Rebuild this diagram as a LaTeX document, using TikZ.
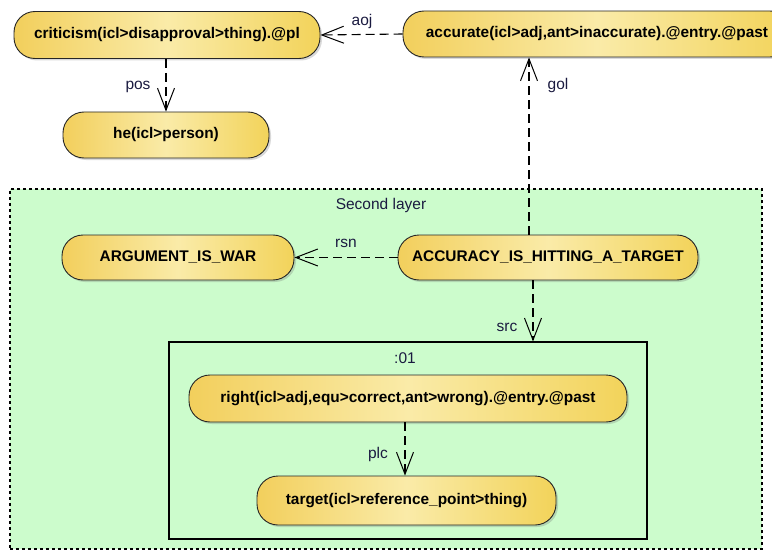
\documentclass[tikz,border=0pt]{standalone}
\usepackage{fontspec}
\setmainfont{Liberation Sans}
\usetikzlibrary{arrows.meta,shadows}
\definecolor{ylL}{HTML}{F2CF5C}
\definecolor{ylM}{HTML}{FAEBA8}
\definecolor{ylR}{HTML}{F2D35A}
\definecolor{layergreen}{HTML}{CCFCCC}
\definecolor{lblblue}{HTML}{1A1A40}
\tikzset{
  unl/.style={draw=black!85, line width=0.9pt, rounded corners=21pt,
    left color=ylL, right color=ylR, middle color=ylM,
    font=\bfseries\fontsize{15.4}{18}\selectfont, inner sep=0pt,
    drop shadow={shadow xshift=2pt, shadow yshift=-2pt, opacity=0.25, fill=black!60}},
  rel/.style={draw=black, line width=1.1pt, dash pattern=on 9pt off 5pt,
    -{Straight Barb[length=22pt,width=17pt,line width=1pt]}},
  lbl/.style={font=\fontsize{15.5}{18}\selectfont, text=lblblue, inner sep=0pt},
  layerbox/.style={draw=black, line width=1.1pt, dash pattern=on 3pt off 3pt, fill=layergreen, inner sep=0pt},
  scopebox/.style={draw=black, line width=1.1pt, inner sep=0pt}
}
\begin{document}
\begin{tikzpicture}[x=1pt,y=-1pt]
\useasboundingbox (0,0) rectangle (772,551);
\clip (0,0) rectangle (772,551);
% containers
\node[layerbox, minimum width=752pt, minimum height=360pt] (layer) at (386,369) {};
\node[lbl] (layertitle) at (381,205) {Second layer};
\node[scopebox, minimum width=478pt, minimum height=197pt] (inner) at (408,440.5) {};
\node[lbl] (innertitle) at (405,358) {:01};
% concept nodes
\node[unl, minimum width=306pt, minimum height=47pt] (crit) at (167,35) {criticism(icl>disapproval>thing).@pl};
\node[unl, minimum width=206pt, minimum height=46pt] (he) at (166,135) {he(icl>person)};
\node[unl, minimum width=388pt, minimum height=46pt] (acc) at (597,34) {accurate(icl>adj,ant>inaccurate).@entry.@past};
\node[unl, minimum width=232pt, minimum height=45pt] (arg) at (178,257.5) {ARGUMENT\_IS\_WAR};
\node[unl, minimum width=300pt, minimum height=45pt] (accy) at (548,257.5) {ACCURACY\_IS\_HITTING\_A\_TARGET};
\node[unl, minimum width=438pt, minimum height=47pt] (right) at (408,398.5) {right(icl>adj,equ>correct,ant>wrong).@entry.@past};
\node[unl, minimum width=299pt, minimum height=49pt] (target) at (406.5,500.5) {target(icl>reference\_point>thing)};
% anchor columns
\coordinate (golx) at (529,0);
\coordinate (srcx) at (533,0);
\coordinate (plcx) at (405,0);
% relations
\draw[rel] (acc.west) -- (crit.west -| crit.east);
\node[lbl] (aojl) at (362,21) {aoj};
\draw[rel] (he.north |- crit.south) -- (he.north);
\node[lbl] (posl) at (138,87) {pos};
\draw[rel] (accy.north -| golx) -- (acc.south -| golx);
\node[lbl] (goll) at (558,85) {gol};
\draw[rel] (accy.west) -- (arg.east);
\node[lbl] (rsnl) at (346,243) {rsn};
\draw[rel] (accy.south -| srcx) -- (inner.north -| srcx);
\node[lbl] (srcl) at (507,327) {src};
\draw[rel] (right.south -| plcx) -- (target.north -| plcx);
\node[lbl] (plcl) at (378,454) {plc};
\end{tikzpicture}
\end{document}
